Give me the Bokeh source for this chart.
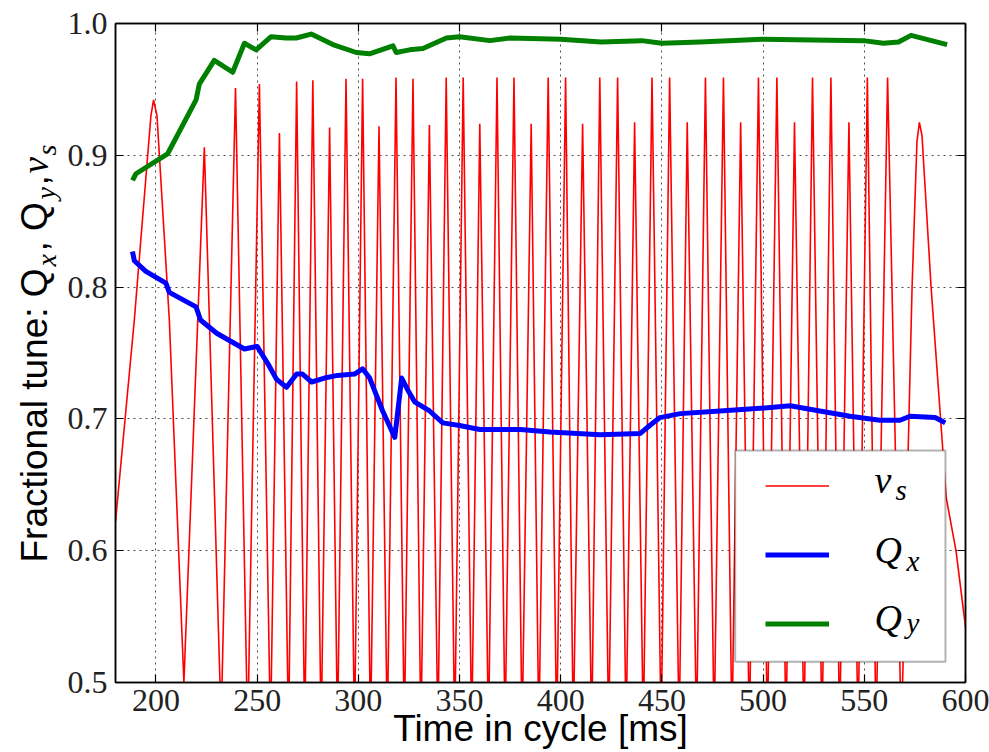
from bokeh.plotting import figure
from bokeh.layouts import row
from bokeh.models import (Range1d, LinearAxis, FixedTicker, Label, BoxAnnotation,
                          Legend, LegendItem, CustomJSTickFormatter)
from bokeh.embed import file_html
from bokeh.resources import INLINE

# ---- synchrotron tune nu_s (vertex list of the sampled trace) ----
nus_time = [180.0, 189.3, 197.5, 198.8, 200.5, 206.6, 211.2, 213.8,
            223.9, 232.2, 239.3, 245.3, 251.1, 256.6, 261.0, 265.5, 269.5, 273.5,
            277.5, 281.6, 285.8, 289.7, 293.9, 298.1, 302.1, 306.0, 310.2, 314.3,
            318.6, 322.7, 327.0, 330.9, 335.1, 339.3, 343.4, 347.6, 351.8, 356.0,
            360.0, 364.3, 368.5, 372.5, 376.9, 380.9, 385.4, 389.2, 393.8, 398.0,
            402.4, 406.2, 410.8, 415.3, 419.3, 423.7, 428.1, 432.3, 436.5, 440.8,
            445.1, 449.6, 453.8, 458.5, 462.5, 467.1, 471.5, 475.8, 480.4, 484.6,
            488.9, 493.2, 497.7, 502.1, 506.8, 511.3, 515.5, 520.2, 524.4, 529.1,
            533.5, 537.8, 542.4, 546.9, 551.5, 555.8, 561.5, 568.3,
            573.6, 576.0, 577.2, 578.5, 583.0, 590.5, 595.3, 601.0]
nus_value = [0.622, 0.775, 0.930, 0.942, 0.930, 0.775, 0.600, 0.500,
             0.906, 0.470, 0.951, 0.460, 0.954, 0.460, 0.917, 0.460, 0.956, 0.460,
             0.957, 0.460, 0.921, 0.460, 0.958, 0.460, 0.958, 0.460, 0.922, 0.460,
             0.959, 0.460, 0.958, 0.460, 0.923, 0.460, 0.959, 0.460, 0.959, 0.460,
             0.924, 0.460, 0.959, 0.460, 0.959, 0.460, 0.924, 0.460, 0.959, 0.460,
             0.959, 0.460, 0.924, 0.460, 0.959, 0.460, 0.959, 0.460, 0.925, 0.460,
             0.959, 0.460, 0.959, 0.460, 0.925, 0.460, 0.959, 0.460, 0.959, 0.460,
             0.925, 0.460, 0.959, 0.460, 0.959, 0.460, 0.925, 0.460, 0.959, 0.460,
             0.959, 0.460, 0.925, 0.460, 0.959, 0.460, 0.959, 0.460,
             0.800, 0.910, 0.925, 0.915, 0.800, 0.640, 0.600, 0.530]

# ---- horizontal tune Q_x ----
qx_time = [188.4, 189.3, 195.0, 204.9, 206.6, 219.8, 222.0, 230.0, 243.7, 250.0,
           256.0, 259.6, 264.5, 269.5, 272.4, 276.9, 283.3, 289.7, 298.1, 302.1,
           305.6, 312.0, 318.0, 321.4, 324.4, 327.8, 335.2, 341.7, 350.0, 360.0,
           380.0, 394.7, 419.5, 439.3, 444.0, 449.0, 459.0, 478.7, 498.5, 513.4,
           528.0, 543.0, 557.7, 567.6, 572.6, 585.0, 590.0]
qx_value = [0.827, 0.820, 0.812, 0.803, 0.796, 0.785, 0.775, 0.765, 0.753, 0.755,
            0.740, 0.730, 0.724, 0.734, 0.734, 0.728, 0.731, 0.733, 0.734, 0.738,
            0.731, 0.706, 0.686, 0.731, 0.722, 0.713, 0.706, 0.697, 0.695, 0.692,
            0.692, 0.690, 0.688, 0.689, 0.695, 0.701, 0.704, 0.706, 0.708, 0.710,
            0.706, 0.702, 0.699, 0.699, 0.702, 0.701, 0.697]

# ---- vertical tune Q_y ----
qy_time = [188.4, 190.1, 205.7, 219.8, 221.4, 228.8, 237.9, 243.7, 249.5, 256.9,
           264.3, 269.3, 276.7, 287.4, 299.0, 305.5, 317.1, 318.7, 325.3, 331.9,
           343.5, 350.0, 365.0, 375.0, 400.0, 420.0, 440.0, 450.0, 468.9, 499.4,
           549.6, 559.5, 566.9, 573.1, 590.9]
qy_value = [0.881, 0.886, 0.901, 0.942, 0.954, 0.972, 0.963, 0.985, 0.980, 0.990,
            0.989, 0.989, 0.992, 0.984, 0.978, 0.977, 0.983, 0.978, 0.980, 0.981,
            0.989, 0.990, 0.987, 0.989, 0.988, 0.986, 0.987, 0.985, 0.986, 0.988,
            0.987, 0.985, 0.986, 0.991, 0.984]

x_ticks = [200, 250, 300, 350, 400, 450, 500, 550, 600]
y_ticks = [0.5, 0.6, 0.7, 0.8, 0.9, 1.0]

TICK_FONT = "Liberation Serif"
SANS = "Liberation Sans"
MATH = "Liberation Serif"
# half-height offsets (baseline to text-box centre) per pixel of font size
MID = {SANS: 0.3465, MATH: 0.3375}

PAGE_H = 752
TITLE_W = 64          # width of the strip that carries the vertical axis title
FRAME_LEFT = 115      # frame edges in page pixels
FRAME_TOP = 23
FRAME_BOTTOM = 682

p = figure(width=989 - TITLE_W, height=PAGE_H, output_backend="svg", toolbar_location=None,
           x_range=Range1d(180, 600), y_range=Range1d(0.5, 1.0),
           min_border_left=FRAME_LEFT - TITLE_W, min_border_right=24,
           min_border_top=FRAME_TOP, min_border_bottom=PAGE_H - FRAME_BOTTOM,
           background_fill_color="white", border_fill_color="white",
           outline_line_color="black", outline_line_width=1.5)

# bottom / left axes with labels, top / right mirror axes with inward ticks only
for ax in (p.xaxis[0], p.yaxis[0]):
    ax.major_tick_in = 8
    ax.major_tick_out = 0
    ax.minor_tick_in = 0
    ax.minor_tick_out = 0
    ax.axis_line_color = "black"
    ax.axis_line_width = 1.5
    ax.major_tick_line_width = 1.2
    ax.major_label_text_font = TICK_FONT
    ax.major_label_text_font_size = "32px"
    ax.major_label_text_color = "#222222"
p.xaxis[0].ticker = FixedTicker(ticks=x_ticks)
p.yaxis[0].ticker = FixedTicker(ticks=y_ticks)
p.xaxis[0].major_label_standoff = 7
p.yaxis[0].major_label_standoff = 8
p.yaxis[0].formatter = CustomJSTickFormatter(code="return tick.toFixed(1);")

p.xaxis[0].axis_label = "Time in cycle [ms]"
p.xaxis[0].axis_label_text_font = SANS
p.xaxis[0].axis_label_text_font_size = "37px"
p.xaxis[0].axis_label_text_font_style = "normal"
p.xaxis[0].axis_label_text_color = "black"
p.xaxis[0].axis_label_standoff = -6

blank = CustomJSTickFormatter(code="return '';")
top = LinearAxis(ticker=FixedTicker(ticks=x_ticks), formatter=blank,
                 major_tick_in=8, major_tick_out=0, minor_tick_in=0, minor_tick_out=0,
                 axis_line_width=1.5, major_tick_line_width=1.2, major_label_standoff=0)
right = LinearAxis(ticker=FixedTicker(ticks=y_ticks), formatter=blank,
                   major_tick_in=8, major_tick_out=0, minor_tick_in=0, minor_tick_out=0,
                   axis_line_width=1.5, major_tick_line_width=1.2, major_label_standoff=0)
p.add_layout(top, "above")
p.add_layout(right, "right")

p.xgrid.ticker = FixedTicker(ticks=x_ticks)
p.ygrid.ticker = FixedTicker(ticks=y_ticks)
for g in (p.xgrid[0], p.ygrid[0]):
    g.grid_line_color = "black"
    g.grid_line_alpha = 0.7
    g.grid_line_dash = "2 4"
    g.grid_line_width = 1

r_nu = p.line(nus_time, nus_value, line_color="#ff0000", line_width=1.6)
r_qx = p.line(qx_time, qx_value, line_color="#0000ff", line_width=5, line_join="round")
r_qy = p.line(qy_time, qy_value, line_color="#008000", line_width=5, line_join="round")

# legend frame (white box that hides the traces underneath)
p.add_layout(BoxAnnotation(left=486.2, right=590.1, bottom=0.5158, top=0.676,
                           fill_color="white", fill_alpha=1.0,
                           line_color="black", line_width=2, level="overlay"))
legend = Legend(items=[LegendItem(label=" ", renderers=[r_nu]),
                       LegendItem(label=" ", renderers=[r_qx]),
                       LegendItem(label=" ", renderers=[r_qy])],
                location=(650, 24), glyph_width=64, glyph_height=69,
                label_height=69, label_width=10, spacing=0, padding=0, margin=0,
                background_fill_alpha=0, border_line_alpha=0,
                label_text_font_size="10px", level="overlay")
p.add_layout(legend, "center")


def frame_label(txt, px, base_py, size, font, style="normal"):
    """Text whose baseline sits at page pixel row base_py (frame-relative screen units)."""
    cy = base_py - MID[font] * size
    p.add_layout(Label(x=px - FRAME_LEFT, y=FRAME_BOTTOM - cy, x_units="screen",
                       y_units="screen", text=txt, text_font=font,
                       text_font_size=f"{size}px", text_font_style=style,
                       text_color="black", text_align="left",
                       text_baseline="alphabetic", level="overlay"))


# legend entries
frame_label("\u03bd", 874, 492, 38, MATH, "italic")
frame_label("s", 895, 499, 29, MATH, "italic")
frame_label("Q", 874, 562, 38, MATH, "italic")
frame_label("x", 906, 570, 29, MATH, "italic")
frame_label("Q", 874, 630, 38, MATH, "italic")
frame_label("y", 906, 632, 29, MATH, "italic")

# strip on the left holding the rotated y axis title; its frame spans the same rows
# as the main frame and its data units are page pixels (y downwards)
t = figure(width=TITLE_W, height=PAGE_H, output_backend="svg", toolbar_location=None,
           title=None, x_range=Range1d(0, TITLE_W),
           y_range=Range1d(FRAME_BOTTOM, FRAME_TOP),
           x_axis_type=None, y_axis_type=None, min_border_left=0, min_border_right=0,
           min_border_top=FRAME_TOP, min_border_bottom=PAGE_H - FRAME_BOTTOM,
           outline_line_color=None, background_fill_color="white",
           border_fill_color="white")
t.xgrid.visible = False
t.ygrid.visible = False

ang = 1.5707963


def title_piece(txt, base_px, start_py, size, font, style="normal"):
    """Rotated text reading upwards from start_py, baseline on page column base_px."""
    cx = base_px - MID[font] * size
    t.add_layout(Label(x=cx, y=start_py, text=txt, text_font=font,
                       text_font_size=f"{size}px", text_font_style=style,
                       text_color="black", angle=ang, text_align="left",
                       text_baseline="alphabetic"))


title_piece("Fractional tune: Q", 47, 562, 37, SANS)
title_piece("x", 55, 266, 28, MATH, "italic")
title_piece(", Q", 47, 251, 37, SANS)
title_piece("y", 54, 199, 28, MATH, "italic")
title_piece(",", 47, 185, 37, SANS)
title_piece("\u03bd", 47, 173, 37, MATH, "italic")
title_piece("s", 55, 155, 28, MATH, "italic")

layout = row(t, p, spacing=0)
open("out.html", "w").write(file_html(layout, INLINE))
